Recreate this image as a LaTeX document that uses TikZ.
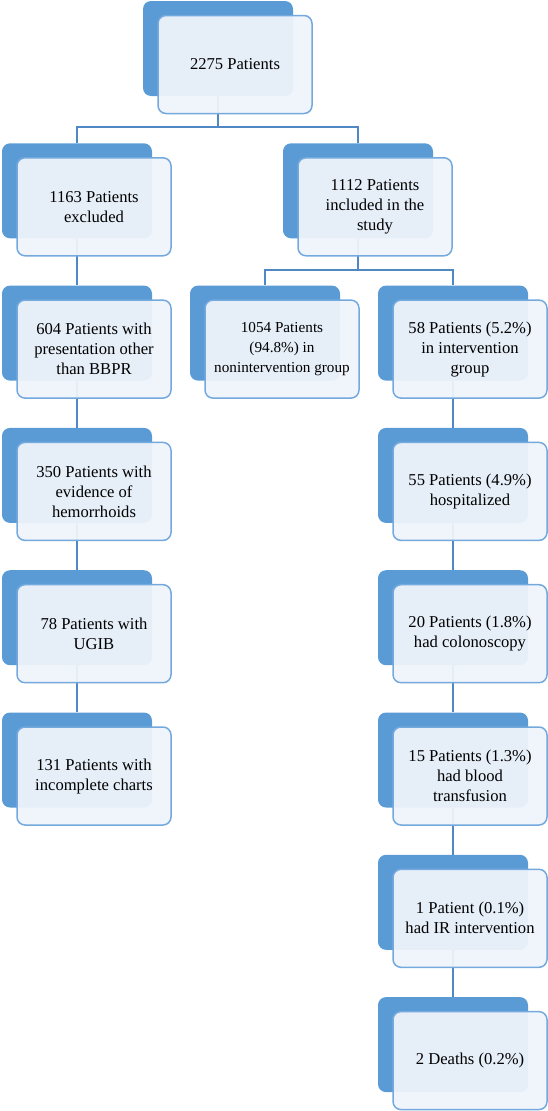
\documentclass[tikz,border=0pt]{standalone}
\usepackage{fontspec}
\setmainfont{Liberation Serif}
\definecolor{boxblue}{HTML}{5B9BD5}
\definecolor{edgeblue}{HTML}{74A9DE}
\definecolor{paleblue}{HTML}{EFF4FB}
\definecolor{lineblue}{HTML}{4F88C2}
\tikzset{
  backbox/.style={rectangle, rounded corners=8pt, fill=boxblue,
    minimum width=150pt, minimum height=95pt, inner sep=0pt},
  frontbox/.style={rectangle, rounded corners=8pt, draw=edgeblue, line width=1.5pt,
    fill=paleblue, fill opacity=0.94, text opacity=1,
    minimum width=154pt, minimum height=98pt, inner sep=2pt, align=center,
    font=\fontsize{16.6}{20}\selectfont},
  link/.style={draw=lineblue, line width=2pt},
}
\begin{document}
\begin{tikzpicture}[x=1pt, y=-1pt]
    \useasboundingbox (0,0) rectangle (548,1111);

    % Back boxes (dark blue)
    \node[backbox] (total-bk) at (218,48.5) {};
    % Left column: excluded
    \node[backbox] (excl-bk) at (77,190.8) {};
    \node[backbox] (pres-bk) at (77,333.1) {};
    \node[backbox] (hemo-bk) at (77,475.4) {};
    \node[backbox] (ugib-bk) at (77,617.7) {};
    \node[backbox] (chart-bk) at (77,760.0) {};
    % Included and its two groups
    \node[backbox] (incl-bk) at (358,190.8) {};
    \node[backbox] (nonint-bk) at (265,333.1) {};
    \node[backbox] (inter-bk) at (453,333.1) {};
    % Right column: intervention group
    \node[backbox] (hosp-bk) at (453,475.4) {};
    \node[backbox] (colo-bk) at (453,617.7) {};
    \node[backbox] (trans-bk) at (453,760.0) {};
    \node[backbox] (irint-bk) at (453,902.3) {};
    \node[backbox] (death-bk) at (453,1044.6) {};

    % Connectors
    \draw[link] (total-bk.south) -- ++(0,31) coordinate (split1);
    \draw[link] (split1) -| (excl-bk.north);
    \draw[link] (split1) -| (incl-bk.north);
    \draw[link] (incl-bk.south) -- ++(0,31.5) coordinate (split2);
    \draw[link] (split2) -| (nonint-bk.north);
    \draw[link] (split2) -| (inter-bk.north);
    \draw[link] (excl-bk.south) -- (pres-bk.north);
    \draw[link] (pres-bk.south) -- (hemo-bk.north);
    \draw[link] (hemo-bk.south) -- (ugib-bk.north);
    \draw[link] (ugib-bk.south) -- (chart-bk.north);
    \draw[link] (inter-bk.south) -- (hosp-bk.north);
    \draw[link] (hosp-bk.south) -- (colo-bk.north);
    \draw[link] (colo-bk.south) -- (trans-bk.north);
    \draw[link] (trans-bk.south) -- (irint-bk.north);
    \draw[link] (irint-bk.south) -- (death-bk.north);

    % Front boxes with the texts
    \node[frontbox] (total) at ([shift={(17,16)}]total-bk) {2275 Patients};
    \node[frontbox] (excl) at ([shift={(17,16)}]excl-bk) {1163 Patients\\excluded};
    \node[frontbox] (pres) at ([shift={(17,16)}]pres-bk) {604 Patients with\\presentation other\\than BBPR};
    \node[frontbox] (hemo) at ([shift={(17,16)}]hemo-bk) {350 Patients with\\evidence of\\hemorrhoids};
    \node[frontbox] (ugib) at ([shift={(17,16)}]ugib-bk) {78 Patients with\\UGIB};
    \node[frontbox] (chart) at ([shift={(17,16)}]chart-bk) {131 Patients with\\incomplete charts};
    \node[frontbox] (incl) at ([shift={(17,16)}]incl-bk) {1112 Patients\\included in the\\study};
    \node[frontbox, font=\fontsize{15.2}{20}\selectfont] (nonint) at ([shift={(17,16)}]nonint-bk) {1054 Patients\\(94.8\%) in\\nonintervention group};
    \node[frontbox] (inter) at ([shift={(17,16)}]inter-bk) {58 Patients (5.2\%)\\in intervention\\group};
    \node[frontbox] (hosp) at ([shift={(17,16)}]hosp-bk) {55 Patients (4.9\%)\\hospitalized};
    \node[frontbox] (colo) at ([shift={(17,16)}]colo-bk) {20 Patients (1.8\%)\\had colonoscopy};
    \node[frontbox] (trans) at ([shift={(17,16)}]trans-bk) {15 Patients (1.3\%)\\had blood\\transfusion};
    \node[frontbox] (irint) at ([shift={(17,16)}]irint-bk) {1 Patient (0.1\%)\\had IR intervention};
    \node[frontbox] (death) at ([shift={(17,16)}]death-bk) {2 Deaths (0.2\%)};

\end{tikzpicture}
\end{document}
